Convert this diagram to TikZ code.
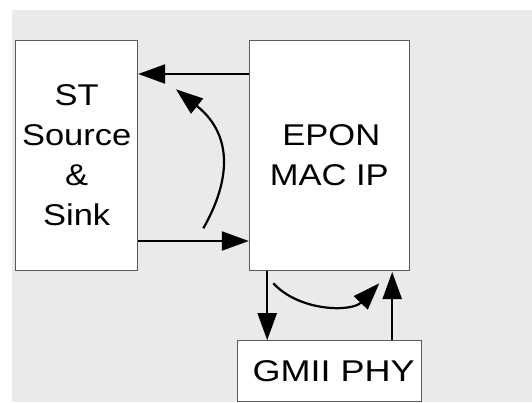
\documentclass[tikz,border=0pt]{standalone}
\usepackage{fontspec}
\newfontfamily\labelfont{Liberation Sans}[FakeStretch=1.15]
\newfontfamily\phyfont{Liberation Sans}[FakeStretch=1.2]
\usetikzlibrary{arrows.meta}
\definecolor{panelgray}{RGB}{234,234,234}
\definecolor{edgegray}{RGB}{90,90,90}
\begin{document}
\begin{tikzpicture}[x=1pt,y=-1pt,
  block/.style={draw=edgegray,line width=1pt,fill=white,inner sep=0pt,
    font=\labelfont\fontsize{30}{40}\selectfont,align=center},
  flow/.style={line width=2.2pt,-{Triangle[length=27pt,width=19pt]}}]
  % canvas and grey panel
  \useasboundingbox (0,0) rectangle (532,402);
  \fill[panelgray] (12,10) rectangle (532,402);

  % blocks
  \node[block,minimum width=122pt,minimum height=229.3pt] (st) at (76.7,155.35)
    {ST\\Source\\\&\\Sink};
  \node[block,minimum width=160pt,minimum height=229.3pt] (epon) at (329.3,155.35)
    {\hspace*{4pt}EPON\\MAC IP};
  \node[block,minimum width=184pt,minimum height=61pt,
    font=\phyfont\fontsize{30}{40}\selectfont] (gmii) at (329.7,371.2)
    {\hspace*{8pt}GMII PHY};

  % data paths between source/sink and the MAC
  \draw[flow] (epon.west |- 0,74) -- (st.east |- 0,74);
  \draw[flow] (st.east |- 0,241) -- (epon.west |- 0,241);
  \coordinate (loopA) at (203.3,228.3);
  \coordinate (loopB) at (176,89.3);
  \draw[flow] (loopA) .. controls (227,187) and (237,138) .. (loopB);

  % MAC to PHY paths
  \draw[flow] ([xshift=18.4pt]epon.south west) -- ([xshift=18.4pt]epon.south west |- gmii.north);
  \draw[flow] ([xshift=-17.6pt]epon.south east |- gmii.north) -- ([xshift=-17.6pt,yshift=-1.5pt]epon.south east);
  \coordinate (loopC) at (273.3,283.3);
  \coordinate (loopD) at (379.3,283.3);
  \draw[flow] (loopC) .. controls (300,312) and (352,312) .. (loopD);
\end{tikzpicture}
\end{document}
